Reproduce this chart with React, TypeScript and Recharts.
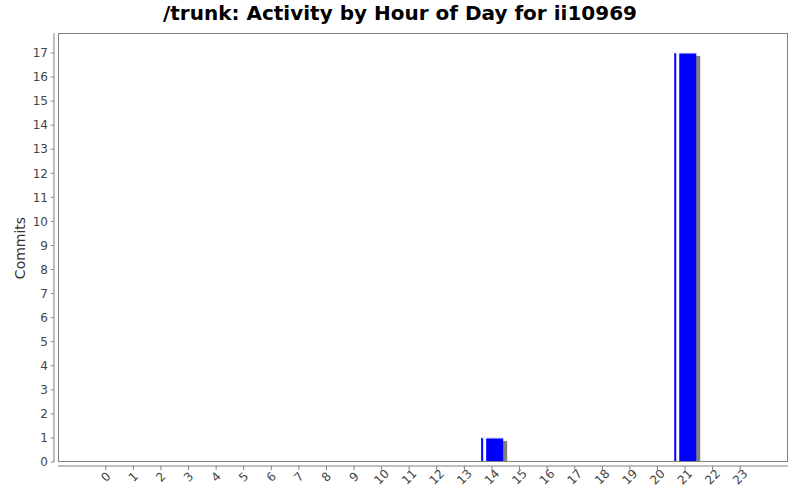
import React from 'react'
import { BarChart, Bar, XAxis, YAxis } from 'recharts'

const hours = Array.from({ length: 24 }, (_, i) => String(i))
const commits = [0, 0, 0, 0, 0, 0, 0, 0, 0, 0, 0, 0, 0, 0, 1, 0, 0, 0, 0, 0, 0, 17, 0, 0]
const yTicks = [0, 1, 2, 3, 4, 5, 6, 7, 8, 9, 10, 11, 12, 13, 14, 15, 16, 17]
const yMax = 17.83

const data = hours.map((h, i) => ({ hour: h, commits: commits[i] }))

const W = 800
const H = 500
const M = { top: 33, right: 12, bottom: 0, left: 0 }
const Y_AXIS_W = 58
const X_AXIS_H = 38
const FONT = '"DejaVu Sans", sans-serif'
const GRAY = '#808080'

// blue bar with a drop shadow and a thin white highlight, in the old JFreeChart look
function ShadowBar(props: any) {
  const { x, y, width, height } = props
  if (!height || height <= 0) return null
  return (
    <g>
      <rect x={x + 4} y={y + 3} width={width} height={height - 3} fill={GRAY} />
      <rect x={x} y={y} width={width} height={height} fill="#0000ff" />
      <rect x={x + 1} y={y} width={width - 1} height={1} fill="#8080ff" />
      <rect x={x + 2} y={y} width={3} height={height} fill="#ffffff" />
    </g>
  )
}

function HourTick(props: any) {
  const { x, y, payload } = props
  const cy = y + 11
  return (
    <text
      x={x}
      y={cy}
      transform={`rotate(-45 ${x} ${cy})`}
      textAnchor="middle"
      dominantBaseline="central"
      fontSize={12}
      fontFamily={FONT}
      fill="#444444"
    >
      {payload.value}
    </text>
  )
}

export default function App() {
  const plotLeft = M.left + Y_AXIS_W
  const plotTop = M.top
  const plotW = W - M.right - plotLeft
  const plotH = H - M.bottom - X_AXIS_H - plotTop

  return (
    <div style={{ position: 'absolute', left: 0, top: 0, width: W, height: H, background: '#fff', fontFamily: FONT }}>
      <div
        style={{
          position: 'absolute',
          left: 0,
          top: 1,
          width: W,
          textAlign: 'center',
          fontSize: 20,
          fontWeight: 'bold',
          color: '#000',
        }}
      >
        /trunk: Activity by Hour of Day for ii10969
      </div>
      <div
        style={{
          position: 'absolute',
          left: 20,
          top: 248,
          transform: 'translate(-50%, -50%) rotate(-90deg)',
          fontSize: 14,
          color: '#333333',
          whiteSpace: 'nowrap',
        }}
      >
        Commits
      </div>
      <BarChart width={W} height={H} data={data} margin={M} barSize={22}>
        <XAxis
          dataKey="hour"
          interval={0}
          height={X_AXIS_H}
          padding={{ left: 34, right: 34 }}
          tickSize={4}
          tickMargin={0}
          axisLine={{ stroke: GRAY, transform: 'translate(0,4)' }}
          tickLine={{ stroke: GRAY, transform: 'translate(0,4)' }}
          tick={<HourTick />}
        />
        <YAxis
          type="number"
          width={Y_AXIS_W}
          domain={[0, () => yMax]}
          allowDataOverflow
          ticks={yTicks}
          interval={0}
          tickSize={3}
          tickMargin={7}
          axisLine={{ stroke: GRAY, transform: 'translate(-4,0)' }}
          tickLine={{ stroke: GRAY, transform: 'translate(-4,0)' }}
          tick={{ fontSize: 12, fontFamily: FONT, fill: '#444444' }}
        />
        <Bar dataKey="commits" shape={<ShadowBar />} isAnimationActive={false} />
      </BarChart>
      <div
        style={{
          position: 'absolute',
          left: plotLeft,
          top: plotTop,
          width: plotW,
          height: plotH,
          boxSizing: 'border-box',
          border: `1px solid ${GRAY}`,
          pointerEvents: 'none',
        }}
      />
    </div>
  )
}
